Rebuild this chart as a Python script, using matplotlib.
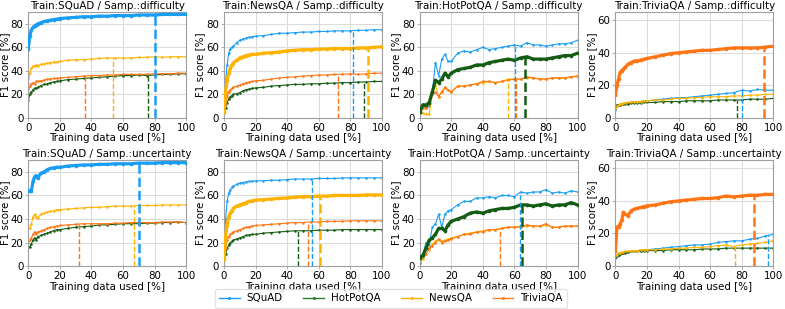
import numpy as np
import matplotlib
matplotlib.use('Agg')
import matplotlib.pyplot as plt
from matplotlib.lines import Line2D

# x grids (training data used, %)
X_G = [0, 1, 2, 3, 4, 5, 6, 8, 10, 12, 14, 16, 18, 20, 25, 30, 35, 40, 45, 50,
       55, 60, 65, 70, 75, 80, 85, 90, 95, 100]
X_H = [0, 2, 4, 6, 8, 10, 12, 14, 16, 18, 20, 24, 28, 32, 36, 40, 44, 48, 52, 56,
       60, 64, 68, 72, 76, 80, 84, 88, 92, 96, 100]

datasets = ['SQuAD', 'HotPotQA', 'NewsQA', 'TriviaQA']
colors = {'SQuAD': '#1a9ef5', 'HotPotQA': '#145c14', 'NewsQA': '#ffb300', 'TriviaQA': '#ff7514'}
legend_colors = {'SQuAD': '#1a9ef5', 'HotPotQA': '#2e7d32', 'NewsQA': '#ffb300', 'TriviaQA': '#ff7f2a'}

# ---- Train SQuAD / difficulty
sq_d_squad = [59, 70, 75, 77, 78, 79, 80, 81, 82, 82.5, 83, 83.5, 84, 84.5, 85, 85.5, 86, 86, 86.5, 86.5,
              87, 87, 87, 87.5, 87.5, 87.5, 88, 88, 88, 88]
sq_d_hot = [15, 20, 22, 24, 25, 25, 26, 27.5, 28.5, 29, 30, 30.5, 31, 31.5, 32.5, 33, 33.5, 34, 34.5, 35,
            35.5, 36, 36, 36.5, 36, 36.5, 37, 37, 37.5, 37.5]
sq_d_news = [30, 38, 42, 44, 44, 45, 44.5, 45.5, 46, 46.5, 47, 47.5, 47.5, 48, 49, 49.5, 49.5, 50, 50.5, 51,
             51, 51, 51, 51.5, 51.5, 52, 51.5, 52, 52, 52]
sq_d_trivia = [22, 27, 29, 30, 29, 31, 31, 31.5, 32, 33, 33, 33.5, 33.5, 34, 34.5, 35, 35.5, 36, 36, 36.5,
               36.5, 37, 37, 37, 37, 37.5, 37.5, 37.5, 38, 38]
sq_d_stop = {'TriviaQA': 36, 'NewsQA': 54, 'HotPotQA': 76, 'SQuAD': 80}

# ---- Train NewsQA / difficulty
nw_d_squad = [8, 30, 45, 55, 59, 60, 61, 64, 66, 67, 68, 68.5, 69, 69.5, 70, 71, 72, 72, 72.5, 73,
              73, 73.5, 73.5, 74, 74, 74, 74.5, 74.5, 75, 75]
nw_d_hot = [4, 8, 13, 16, 18, 19, 20, 20.5, 21.5, 23, 24, 24.5, 25, 25.5, 26, 27, 27.5, 28, 28.5, 28.5,
            29, 29, 29.5, 29.5, 30, 30, 30.5, 30.5, 31, 31]
nw_d_news = [5, 22, 32, 38, 42, 45, 47, 49, 51, 52, 53, 53.5, 54, 54, 55, 55.5, 56, 57, 57.5, 58,
             58, 58.5, 58.5, 59, 59, 59, 59.5, 59.5, 60, 60.5]
nw_d_trivia = [5, 12, 18, 22, 24, 25, 26, 27, 28, 29, 30, 30.5, 31, 31.5, 32, 33, 34, 34.5, 35, 35.5,
               36, 36.5, 36.5, 37, 37, 37.5, 37, 37.5, 38, 38]
nw_d_stop = {'TriviaQA': 72.5, 'SQuAD': 81.5, 'HotPotQA': 89, 'NewsQA': 91}

# ---- Train HotPotQA / difficulty
hp_d_squad = [7, 12, 8, 10, 22, 47, 36, 50, 54, 48, 48, 55, 57, 56, 58, 60, 58, 59, 60, 61,
              62, 61, 64, 62, 62, 61, 62, 63, 63, 64, 66]
hp_d_hot = [5, 11, 11, 13, 22, 32, 30, 33, 38, 35, 38, 41, 42, 43, 45, 45, 47, 48, 49, 50,
            49, 51, 52, 50, 50, 50, 51, 52, 53, 53, 55]
hp_d_news = [5, 4, 3, 3, 20, 28, 18, 23, 25, 24, 22, 27, 27, 28, 29, 30, 31, 30, 31, 33,
             33, 33, 34, 34, 33, 33, 34, 34, 34, 35, 36]
hp_d_trivia = [3, 8, 8, 12, 20, 22, 18, 22, 26, 24, 22, 27, 27, 28, 29, 31, 31, 30, 31, 32,
               33, 33, 35, 34, 33, 33, 34, 34, 34, 35, 35]
hp_d_stop = {'NewsQA': 56, 'SQuAD': 60.3, 'TriviaQA': 61, 'HotPotQA': 66.6}

# ---- Train TriviaQA / difficulty
tq_d_squad = [5, 7, 8, 8, 8.5, 8.5, 9, 9, 9.5, 10, 10, 10, 10.5, 10.5, 11, 11.5, 12, 12.5, 12.5, 13,
              13.5, 14, 14.5, 15, 15.5, 17, 16.5, 17.5, 17, 17]
tq_d_hot = [6, 8, 8, 8, 8.5, 8.5, 8.5, 8.5, 9, 9, 9, 9, 9.5, 9.5, 9.5, 10, 10, 10, 10.5, 10.5,
            10.5, 10.5, 11, 11, 11, 11, 11.5, 11.5, 11.5, 12]
tq_d_news = [6, 7, 8, 8.5, 8.5, 9, 9, 9.5, 9.5, 10, 10, 10, 10.5, 10.5, 11, 11, 11.5, 12, 12, 12.5,
             12.5, 13, 13, 13, 13.5, 13.5, 14, 14, 14.5, 14.5]
tq_d_trivia = [14, 20, 24, 28, 29, 30, 31, 33, 34, 35, 35, 35.5, 36, 36.5, 37.5, 38.5, 39.5, 40, 40.5, 41,
               41.5, 41.5, 42, 42.5, 43, 43, 43, 43, 43.5, 44]
tq_d_stop = {'HotPotQA': 77, 'SQuAD': 80, 'TriviaQA': 94}

# ---- Train SQuAD / uncertainty
sq_u_squad = [64, 64, 64, 72, 76, 77, 75, 79, 80, 82, 83, 83.5, 84, 84, 85, 85.5, 86, 86, 86.5, 86.5,
              87, 87, 87, 87.5, 87.5, 87.5, 88, 88, 88, 88]
sq_u_hot = [16, 16, 19, 22, 24, 22, 25, 26, 27, 28, 29, 30, 31, 31, 32, 33, 33.5, 34, 35, 35,
            35.5, 36, 36, 36, 36.5, 36.5, 37, 37, 37.5, 37]
sq_u_news = [32, 32, 36, 42, 44, 42, 41, 44, 45, 46, 46.5, 47, 48, 48, 48.5, 49, 49.5, 50, 50, 50.5,
             51, 51, 51, 51.5, 51.5, 51.5, 52, 52, 52, 52]
sq_u_trivia = [20, 22, 24, 27, 29, 27, 29, 30, 31, 32, 33, 33.5, 34, 34.5, 35, 35.5, 36, 36, 36, 36,
               36.5, 36.5, 37, 37, 37, 37, 37.5, 37.5, 37.5, 37]
sq_u_stop = {'TriviaQA': 32, 'NewsQA': 67, 'SQuAD': 70}

# ---- Train NewsQA / uncertainty
nw_u_squad = [10, 40, 55, 62, 65, 67, 68, 69.5, 70.5, 71, 71.5, 72, 72, 72.5, 72.5, 73, 73, 73.5, 74, 74,
              74, 74.5, 74.5, 74.5, 75, 75, 75, 75, 75, 75]
nw_u_hot = [5, 10, 15, 18, 20, 21, 22, 23, 24, 25, 26, 26.5, 27, 27, 28, 28.5, 29, 29.5, 30, 30,
            30, 30.5, 30.5, 30.5, 31, 31, 31, 31, 31, 31]
nw_u_news = [6, 25, 35, 42, 45, 47, 49, 51, 52, 53, 54, 55, 55.5, 56, 56.5, 57, 57.5, 58, 58.5, 59,
             59, 59.5, 59.5, 60, 60, 60, 60, 60.5, 60.5, 60.5]
nw_u_trivia = [6, 15, 22, 25, 27, 28, 29, 30, 31, 32, 33, 33.5, 34, 34.5, 35, 35.5, 36, 36.5, 37, 37,
               37.5, 37.5, 38, 38, 38, 38.5, 38.5, 38.5, 38.5, 38.5]
nw_u_stop = {'HotPotQA': 47, 'TriviaQA': 53, 'SQuAD': 56, 'NewsQA': 61}

# ---- Train HotPotQA / uncertainty
hp_u_squad = [3, 10, 20, 18, 33, 36, 44, 33, 44, 47, 48, 52, 55, 55, 58, 58, 59, 58, 60, 60,
              59, 63, 62, 63, 63, 65, 62, 63, 62, 64, 63]
hp_u_hot = [7, 9, 15, 22, 24, 27, 32, 32, 30, 35, 38, 40, 42, 45, 46, 45, 47, 48, 49, 49,
            50, 52, 52, 51, 52, 53, 51, 52, 52, 54, 52]
hp_u_news = [4, 6, 16, 14, 19, 21, 22, 21, 22, 23, 24, 25, 27, 28, 29, 30, 31, 31, 32, 33,
             33, 34, 34, 34, 34, 35, 33, 33, 34, 34, 34]
hp_u_trivia = [3, 8, 10, 15, 17, 20, 23, 20, 21, 22, 23, 25, 27, 27, 29, 29, 31, 31, 32, 33,
               33, 33, 35, 34, 34, 36, 33, 33, 34, 34, 34]
hp_u_stop = {'TriviaQA': 51, 'SQuAD': 63.7, 'HotPotQA': 65}

# ---- Train TriviaQA / uncertainty
tq_u_squad = [5, 6, 7, 7.5, 8, 8, 8.5, 8.5, 9, 9, 9.5, 9.5, 10, 10, 10.5, 11, 11.5, 12, 12.5, 13,
              13, 13.5, 14.5, 15, 15.5, 15.5, 16.5, 17, 18.5, 19.5]
tq_u_hot = [5, 6, 7, 7.5, 8, 8, 8, 8.5, 9, 9, 9, 9.5, 9.5, 9.5, 9.5, 9.5, 10, 10, 10, 10,
            10.5, 10.5, 10.5, 11, 11, 11, 11, 11, 11, 11]
tq_u_news = [6, 7, 8, 8, 8.5, 8.5, 9, 9, 9.5, 9.5, 9.5, 10, 10, 10, 10, 10.5, 10.5, 11, 11, 11.5,
             11.5, 12, 12.5, 13, 12, 13, 13.5, 14, 14.5, 15.5]
tq_u_trivia = [9, 24, 24, 26, 28, 33, 32, 31, 34, 35, 35.5, 36, 36.5, 37, 37.5, 38.5, 39.5, 40, 40.5, 41,
               41.5, 41.5, 42, 43, 42.5, 43, 43.5, 43.5, 44, 44]
tq_u_stop = {'NewsQA': 75.5, 'TriviaQA': 88, 'SQuAD': 97}

panels = [
    ('SQuAD', 'difficulty', X_G, [sq_d_squad, sq_d_hot, sq_d_news, sq_d_trivia], sq_d_stop, 90),
    ('NewsQA', 'difficulty', X_G, [nw_d_squad, nw_d_hot, nw_d_news, nw_d_trivia], nw_d_stop, 90),
    ('HotPotQA', 'difficulty', X_H, [hp_d_squad, hp_d_hot, hp_d_news, hp_d_trivia], hp_d_stop, 90),
    ('TriviaQA', 'difficulty', X_G, [tq_d_squad, tq_d_hot, tq_d_news, tq_d_trivia], tq_d_stop, 65),
    ('SQuAD', 'uncertainty', X_G, [sq_u_squad, sq_u_hot, sq_u_news, sq_u_trivia], sq_u_stop, 90),
    ('NewsQA', 'uncertainty', X_G, [nw_u_squad, nw_u_hot, nw_u_news, nw_u_trivia], nw_u_stop, 90),
    ('HotPotQA', 'uncertainty', X_H, [hp_u_squad, hp_u_hot, hp_u_news, hp_u_trivia], hp_u_stop, 90),
    ('TriviaQA', 'uncertainty', X_G, [tq_u_squad, tq_u_hot, tq_u_news, tq_u_trivia], tq_u_stop, 65),
]

FS = 7.4
plt.rcParams['font.family'] = 'DejaVu Sans'

fig, axes = plt.subplots(2, 4, figsize=(7.85, 3.09), dpi=100)
fig.subplots_adjust(left=0.036, right=0.985, top=0.961, bottom=0.139, wspace=0.24, hspace=0.4)

for ax, (train, samp, xs, series, stops, ytop) in zip(axes.flat, panels):
    for name, ys in zip(datasets, series):
        thick = (name == train)
        ax.plot(xs, ys, color=colors[name], lw=2.3 if thick else 0.8,
                marker='.', ms=3.2 if thick else 1.6, zorder=3 if thick else 2)
    for name, xs_stop in stops.items():
        thick = (name == train)
        idx = datasets.index(name)
        h = np.interp(xs_stop, xs, series[idx])
        ax.plot([xs_stop, xs_stop], [0, h], color=colors[name], ls='--',
                lw=1.8 if thick else 1.0, zorder=4)
    ax.set_xlim(0, 100)
    ax.set_ylim(0, ytop)
    ax.set_xticks([0, 20, 40, 60, 80, 100])
    ax.set_yticks([0, 20, 40, 60] if ytop < 80 else [0, 20, 40, 60, 80])
    ax.grid(True, color='#dcdcdc', lw=0.8)
    ax.set_axisbelow(True)
    for s in ax.spines.values():
        s.set_color('#a0a0a0')
        s.set_linewidth(0.8)
    ax.tick_params(labelsize=FS, length=2, width=0.6, color='#a0a0a0', pad=1.5)
    ax.set_title('Train:%s / Samp.:%s' % (train, samp), fontsize=FS, pad=2)
    ax.set_xlabel('Training data used [%]', fontsize=FS, labelpad=0.5)
    ax.set_ylabel('F1 score [%]', fontsize=FS, labelpad=0.5)

handles = [Line2D([0], [0], color=legend_colors[n], lw=1.0, marker='.', ms=2.5) for n in datasets]
fig.legend(handles, datasets, loc='lower center', bbox_to_anchor=(0.498, -0.012), ncol=4,
           fontsize=FS, frameon=True, edgecolor='#dddddd', handlelength=2.0,
           handletextpad=0.7, columnspacing=2.0, borderpad=0.4, fancybox=True)

fig.savefig('out.png', dpi=100)
